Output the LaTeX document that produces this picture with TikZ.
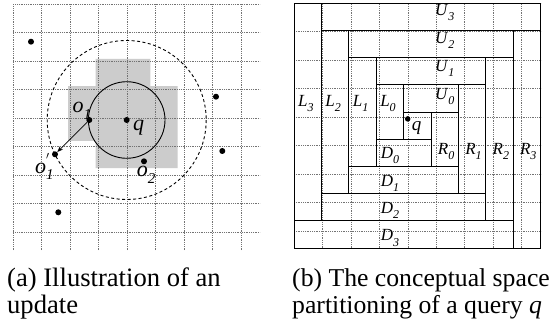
\documentclass[tikz,border=0pt]{standalone}
\usepackage{fontspec}
\setmainfont{Liberation Serif}
\usetikzlibrary{arrows.meta}
\newcommand\sublab[3]{\textit{#1}\raisebox{-0.3em}{\fontsize{#3}{#3}\selectfont\itshape #2}}
\begin{document}
\begin{tikzpicture}[x=1pt,y=-1pt,
  gridline/.style={dash pattern=on 0.7pt off 1.1pt, black!55, line width=0.6pt},
  wall/.style={line width=1pt, black},
  dotpt/.style={circle, fill=black, inner sep=0pt, minimum size=6pt},
  lab/.style={inner sep=0pt, font=\fontsize{17}{17}\selectfont},
  olab/.style={inner sep=0pt, anchor=base west, font=\fontsize{22}{22}\selectfont},
  captexta/.style={inner sep=0pt, anchor=base west, font=\fontsize{26.6}{26.6}\selectfont},
  captextb/.style={inner sep=0pt, anchor=base west, font=\fontsize{25.7}{25.7}\selectfont}]
\useasboundingbox (0,0) rectangle (559,323);
\fill[white] (0,0) rectangle (559,323);

% ---------- (a) ----------
\begin{scope}[shift={(13.3,4.3)}, x=27.4pt, y=-27.3pt]
  \fill[gray!40] (3,2) -- (5,2) -- (5,3) -- (6,3) -- (6,6) -- (3,6) -- (3,5) -- (2,5) -- (2,3) -- (3,3) -- cycle;
  \draw[gridline] (0,0) grid (9,9);
\end{scope}

\node[dotpt] (q) at (126.7,120) {};
\draw[line width=0.9pt] (q.center) circle[radius=38.3];
\draw[line width=0.9pt, dash pattern=on 3pt off 2.5pt] (q.center) circle[radius=79.5];

\node[dotpt] (p1) at (31,41.7) {};
\node[dotpt] (p2) at (216,96.7) {};
\node[dotpt] (p3) at (222.3,151) {};
\node[dotpt] (p4) at (58.3,212.3) {};
\node[dotpt] (o1) at (89.3,120) {};
\node[dotpt] (o1p) at (55,154.3) {};
\node[dotpt] (o2) at (144,161.3) {};

\draw[-{Stealth[length=6pt,width=4.5pt]}, line width=0.7pt] (o1) -- (o1p);

\node[olab] (lo1) at (72.5,112.5) {\sublab{o}{1}{15}};
\node[olab] (lq) at (133,131) {\textit{q}};
\node[olab] (lo1p) at (35,173.3) {\textit{o}\rlap{\raisebox{0.4em}{\fontsize{15}{15}\selectfont$'$}}\raisebox{-0.3em}{\fontsize{15}{15}\selectfont\itshape 1}};
\node[olab] (lo2) at (136.7,176.7) {\sublab{o}{2}{15}};

% ---------- (b) ----------
\begin{scope}[shift={(294,3.3)}, x=27.4pt, y=-27.2pt]
  \draw[gridline] (0,0) grid (9,9);
  \draw[wall] (0,0) rectangle (9,9);
  \draw[wall] (1,1) -- (9,1) (2,2) -- (8,2) (3,3) -- (7,3) (4,4) -- (6,4)
              (3,5) -- (5,5) (2,6) -- (6,6) (1,7) -- (7,7) (0,8) -- (8,8);
  \draw[wall] (1,0) -- (1,8) (2,1) -- (2,7) (3,2) -- (3,6) (4,3) -- (4,5)
              (5,4) -- (5,6) (6,3) -- (6,7) (7,2) -- (7,8) (8,1) -- (8,9);
  \node[lab] (u3) at (5.5,0.34) {\sublab{U}{3}{12}};
  \node[lab] (u2) at (5.5,1.38) {\sublab{U}{2}{12}};
  \node[lab] (u1) at (5.5,2.40) {\sublab{U}{1}{12}};
  \node[lab] (u0) at (5.5,3.41) {\sublab{U}{0}{12}};
  \node[lab] (l3) at (0.43,3.67) {\sublab{L}{3}{12}};
  \node[lab] (l2) at (1.43,3.67) {\sublab{L}{2}{12}};
  \node[lab] (l1) at (2.43,3.67) {\sublab{L}{1}{12}};
  \node[lab] (l0) at (3.43,3.67) {\sublab{L}{0}{12}};
  \node[lab] (r0) at (5.55,5.46) {\sublab{R}{0}{12}};
  \node[lab] (r1) at (6.55,5.46) {\sublab{R}{1}{12}};
  \node[lab] (r2) at (7.55,5.46) {\sublab{R}{2}{12}};
  \node[lab] (r3) at (8.55,5.46) {\sublab{R}{3}{12}};
  \node[lab] (d0) at (3.5,5.61) {\sublab{D}{0}{12}};
  \node[lab] (d1) at (3.5,6.61) {\sublab{D}{1}{12}};
  \node[lab] (d2) at (3.5,7.60) {\sublab{D}{2}{12}};
  \node[lab] (d3) at (3.5,8.63) {\sublab{D}{3}{12}};
  \node[dotpt, minimum size=5.5pt] (qr) at (4.15,4.25) {};
  \node[inner sep=0pt, anchor=base west, font=\fontsize{19}{19}\selectfont] (lqr) at (4.29,4.67) {\textit{q}};
\end{scope}

% ---------- captions ----------
\node[captexta] (ca1) at (7,286.7) {(a) Illustration of an};
\node[captexta] (ca2) at (7,313) {update};
\node[captextb] (cb1) at (292,286.7) {(b) The conceptual space};
\node[captextb] (cb2) at (292,313) {partitioning of a query \textit{q}};
\end{tikzpicture}
\end{document}
